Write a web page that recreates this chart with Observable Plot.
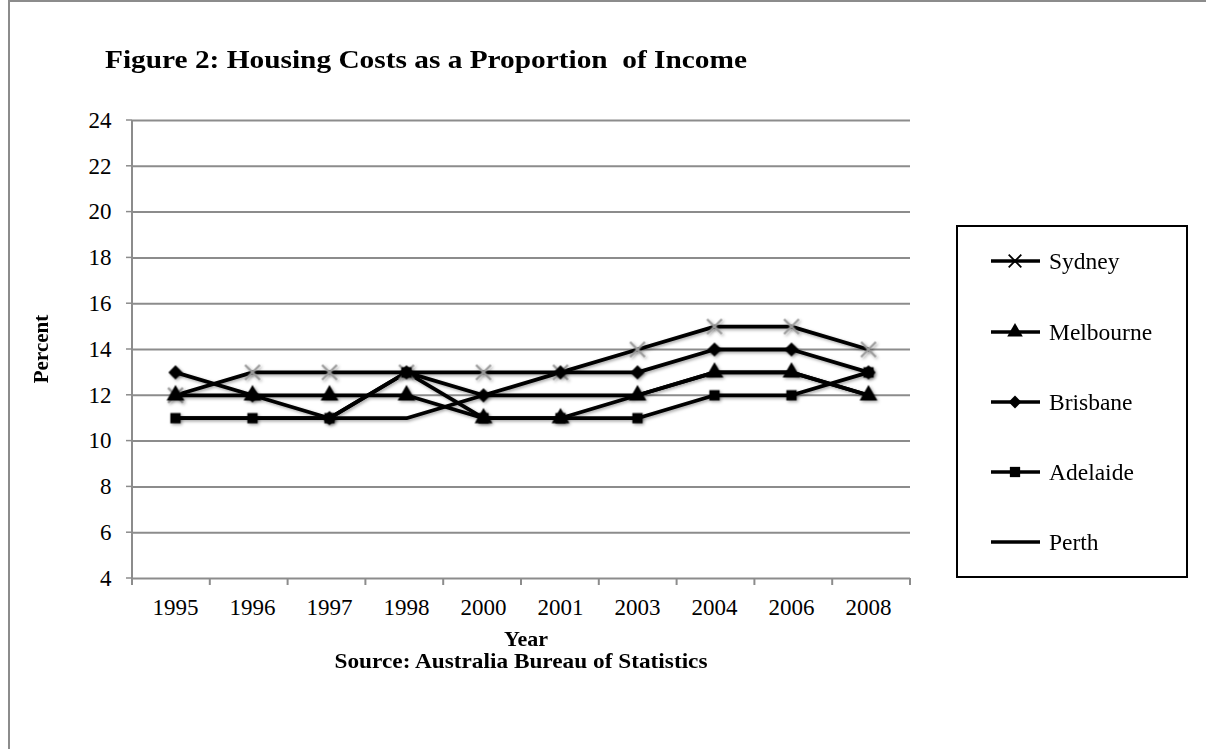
<!DOCTYPE html>
<html><head><meta charset="utf-8">
<script src="https://cdn.jsdelivr.net/npm/d3@7"></script>
<script src="https://cdn.jsdelivr.net/npm/@observablehq/plot@0.6"></script>
<style>
body{margin:0;background:#fff;}
#wrap{position:relative;width:1206px;height:749px;overflow:hidden;}
</style></head><body><div id="wrap"></div>
<script>
const years = ["1995","1996","1997","1998","2000","2001","2003","2004","2006","2008"];
const sydney    = [12,13,13,13,13,13,14,15,15,14];
const melbourne = [12,12,12,12,11,11,12,13,13,12];
const brisbane  = [13,12,11,13,12,13,13,14,14,13];
const adelaide  = [11,11,11,13,11,11,11,12,12,13];
const perth     = [11,11,11,11,12,12,12,13,13,12];
const seriesNames = ["Sydney","Melbourne","Brisbane","Adelaide","Perth"];
const seriesValues = [sydney, melbourne, brisbane, adelaide, perth];
const seriesSymbols = ["times","triangle","diamond2","square",null];
const yTicks = [4,6,8,10,12,14,16,18,20,22,24];
const titleText = "Figure 2: Housing Costs as a Proportion  of Income";
const xLabelText = "Year";
const sourceText = "Source: Australia Bureau of Statistics";
const yLabelText = "Percent";

const data = [];
seriesNames.forEach((name, i) => seriesValues[i].forEach((v, j) =>
  data.push({series: name, year: years[j], value: v})));

const FONT = "'Liberation Serif','Times New Roman',serif";
const GRID = "#8c8c8c";
const symSize = {triangle: 6.6, diamond2: 6.4, square: 5.8};

const dotMarks = [];
seriesNames.forEach((name, i) => {
  const sym = seriesSymbols[i];
  if (!sym) return;
  const sub = data.filter(d => d.series === name);
  if (sym === "times") {
    dotMarks.push(Plot.dot(sub, {x: "year", y: "value", symbol: "times", r: 6.8, stroke: "#9a9a9a", strokeWidth: 2.2, fill: "none"}));
  } else {
    dotMarks.push(Plot.dot(sub, {x: "year", y: "value", symbol: sym, r: symSize[sym], fill: "#000", stroke: "none"}));
  }
});

const plot = Plot.plot({
  width: 1206, height: 749,
  marginLeft: 132, marginRight: 296, marginTop: 120, marginBottom: 171,
  style: {fontFamily: FONT, fontSize: "23px", color: "#000", background: "transparent", overflow: "visible"},
  x: {type: "point", domain: years, padding: 0.5, label: null, tickSize: 0, tickPadding: 20},
  y: {domain: [4, 24], ticks: yTicks, label: null, tickSize: 0, tickPadding: 21},
  marks: [
    Plot.ruleY(yTicks, {stroke: GRID, strokeWidth: 2}),
    Plot.line(data, {x: "year", y: "value", z: "series", stroke: "#000", strokeWidth: 3.8}),
    ...dotMarks
  ]
});

const wrap = document.getElementById("wrap");
wrap.appendChild(plot);
const svg = d3.select(plot);

// shadow filter
const defs = svg.insert("defs", ":first-child");
const f = defs.append("filter").attr("id", "sh").attr("x", "-20%").attr("y", "-20%").attr("width", "140%").attr("height", "140%");
f.append("feDropShadow").attr("dx", 1.5).attr("dy", 1.5).attr("stdDeviation", 1.4).attr("flood-color", "#000").attr("flood-opacity", 0.35);
svg.selectAll('g[aria-label="line"], g[aria-label="dot"]').attr("filter", "url(#sh)");

const xs = plot.scale("x"), ys = plot.scale("y");
const x0 = xs.range[0], x1 = xs.range[1];
const step = (x1 - x0) / years.length;
const yBottom = ys.apply(4), yTop = ys.apply(24);

const g = svg.append("g");
g.append("line").attr("x1", x0).attr("x2", x0).attr("y1", yTop).attr("y2", yBottom + 7).attr("stroke", GRID).attr("stroke-width", 2);
yTicks.forEach(t => g.append("line").attr("x1", x0 - 6).attr("x2", x0).attr("y1", ys.apply(t)).attr("y2", ys.apply(t)).attr("stroke", GRID).attr("stroke-width", 1.5));
for (let i = 0; i <= years.length; i++) {
  const xb = x0 + i * step;
  g.append("line").attr("x1", xb).attr("x2", xb).attr("y1", yBottom).attr("y2", yBottom + 7).attr("stroke", GRID).attr("stroke-width", 2);
}

// outer frame
svg.append("rect").attr("x", 9).attr("y", 1).attr("width", 1400).attr("height", 1000).attr("fill", "none").attr("stroke", "#8c8c8c").attr("stroke-width", 2);

// title & labels
svg.append("text").attr("x", 105).attr("y", 68).attr("text-anchor", "start").attr("font-family", FONT).attr("font-weight", "bold").attr("font-size", 25)
  .attr("textLength", 642).attr("lengthAdjust", "spacingAndGlyphs").text(titleText);
const cx = (x0 + x1) / 2;
svg.append("text").attr("x", cx + 5).attr("y", 646).attr("text-anchor", "middle").attr("font-family", FONT).attr("font-weight", "bold").attr("font-size", 22).text(xLabelText);
svg.append("text").attr("x", cx).attr("y", 668).attr("text-anchor", "middle").attr("font-family", FONT).attr("font-weight", "bold").attr("font-size", 21)
  .attr("textLength", 373).attr("lengthAdjust", "spacingAndGlyphs").text(sourceText);
svg.append("text").attr("transform", `translate(48,${(yTop + yBottom) / 2}) rotate(-90)`).attr("text-anchor", "middle")
  .attr("font-family", FONT).attr("font-weight", "bold").attr("font-size", 21).text(yLabelText);

// legend
const lg = svg.append("g");
lg.append("rect").attr("x", 957).attr("y", 226).attr("width", 230).attr("height", 351).attr("fill", "#fff").attr("stroke", "#000").attr("stroke-width", 2);
const legendY = [261, 332, 402, 472, 542];
const symMap = {times: d3.symbolTimes, triangle: d3.symbolTriangle, diamond2: d3.symbolDiamond2, square: d3.symbolSquare};
seriesNames.forEach((name, i) => {
  const y = legendY[i];
  lg.append("line").attr("x1", 991).attr("x2", 1040).attr("y1", y).attr("y2", y).attr("stroke", "#000").attr("stroke-width", 3.5);
  const sym = seriesSymbols[i];
  if (sym) {
    const r = 5.8;
    const p = d3.symbol(symMap[sym], Math.PI * r * r)();
    const el = lg.append("path").attr("d", p).attr("transform", `translate(1015,${y})`);
    if (sym === "times") el.attr("fill", "none").attr("stroke", "#000").attr("stroke-width", 1.8);
    else el.attr("fill", "#000");
  }
  lg.append("text").attr("x", 1049).attr("y", y).attr("dy", "0.35em").attr("text-anchor", "start").attr("font-family", FONT).attr("font-size", 23.5).text(name);
});
</script>
</body></html>
